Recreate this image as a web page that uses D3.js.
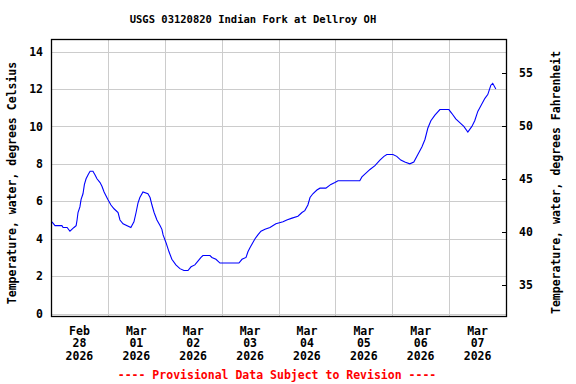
<!DOCTYPE html>
<html>
<head>
<meta charset="utf-8">
<script src="https://cdn.jsdelivr.net/npm/d3@7"></script>
<style>
  body { margin: 0; background: #fff; }
  svg text { font-family: "DejaVu Sans Mono", monospace; font-weight: bold; fill: #000; }
</style>
</head>
<body>
<div id="chart"></div>
<script>
// chart text
const chartTitle = "USGS 03120820 Indian Fork at Dellroy OH";
const leftTitle = "Temperature, water, degrees Celsius";
const rightTitle = "Temperature, water, degrees Fahrenheit";
const footNote = "---- Provisional Data Subject to Revision ----";

// observations: hours after 2026-02-28 00:00 and water temperature (deg C)
const obsHours = [0.4, 1.7, 4.6, 5.1, 6.8, 8.0, 9.7, 10.6, 11.0, 11.4, 12.2, 12.7, 13.5, 14.1, 14.8, 15.6, 16.0, 16.5, 17.7,
  18.6, 19.4, 20.7, 21.5, 22.4, 23.2, 24.0, 25.3, 26.6, 28.3, 29.1, 30.4, 33.7, 35.0, 35.9, 36.7, 37.5, 38.8,
  40.9, 41.8, 42.6, 43.5, 44.7, 46.0, 46.8, 47.3, 48.5, 49.8, 51.0, 52.7, 54.4, 56.1, 57.8, 59.1, 60.7, 62.0,
  63.3, 64.1, 67.1, 67.9, 69.6, 71.3, 79.3, 80.6, 82.3, 83.1, 83.9, 85.2, 86.1, 87.3, 88.6, 90.3, 92.4, 94.9,
  97.9, 99.5, 101.7, 104.2, 105.9, 107.1, 108.4, 109.3, 110.5, 112.2, 113.5, 116.0, 118.1, 119.8, 121.1,
  130.3, 131.2, 132.9, 134.6, 136.7, 138.8, 140.5, 141.7, 144.3, 145.9, 147.6, 149.3, 151.4, 153.1, 154.8,
  156.5, 157.8, 159.0, 160.3, 162.0, 164.1, 167.9, 169.1, 170.8, 172.5, 174.2, 175.9, 177.6, 178.8, 180.1,
  181.4, 183.1, 184.3, 185.6, 186.4, 187.7];
const tempC = [4.9, 4.7, 4.7, 4.6, 4.6, 4.4, 4.6, 4.7, 5.0, 5.4, 5.7, 6.1, 6.4, 6.9, 7.2, 7.4, 7.5, 7.6, 7.6,
  7.4, 7.2, 7.0, 6.8, 6.5, 6.3, 6.1, 5.8, 5.6, 5.4, 5.0, 4.8, 4.6, 4.9, 5.4, 5.9, 6.2, 6.5,
  6.4, 6.2, 5.8, 5.4, 5.0, 4.7, 4.5, 4.2, 3.8, 3.3, 2.9, 2.6, 2.4, 2.3, 2.3, 2.5, 2.6, 2.8,
  3.0, 3.1, 3.1, 3.0, 2.9, 2.7, 2.7, 2.9, 3.0, 3.3, 3.5, 3.8, 4.0, 4.2, 4.4, 4.5, 4.6, 4.8,
  4.9, 5.0, 5.1, 5.2, 5.4, 5.5, 5.8, 6.2, 6.4, 6.6, 6.7, 6.7, 6.9, 7.0, 7.1,
  7.1, 7.3, 7.5, 7.7, 7.9, 8.2, 8.4, 8.5, 8.5, 8.4, 8.2, 8.1, 8.0, 8.1, 8.5,
  8.9, 9.3, 9.9, 10.3, 10.6, 10.9, 10.9, 10.7, 10.4, 10.2, 10.0, 9.7, 10.0, 10.3, 10.8,
  11.1, 11.5, 11.7, 12.2, 12.3, 12.0];

// axes
const startDay = "2026-02-28";
const endDay = "2026-03-08";
const dayLabels = ["2026-02-28", "2026-03-01", "2026-03-02", "2026-03-03", "2026-03-04", "2026-03-05", "2026-03-06", "2026-03-07"];
const celsiusTicks = [0, 2, 4, 6, 8, 10, 12, 14];
const celsiusRange = [-0.13, 14.67];
const fahrenheitTicks = [35, 40, 45, 50, 55];
const fahrenheitRange = [32.1, 58.2];

const width = 576, height = 384;
const margin = {top: 39, right: 70, bottom: 68, left: 51};
const w = width - margin.left - margin.right,
      h = height - margin.top - margin.bottom;

const parseDay = d3.timeParse("%Y-%m-%d");
const t0 = parseDay(startDay);

const svg = d3.select("#chart")
  .append("svg")
    .attr("width", width)
    .attr("height", height);

const g = svg.append("g")
    .attr("transform", `translate(${margin.left},${margin.top})`);

const x = d3.scaleTime()
  .domain([t0, parseDay(endDay)])
  .range([0, w]);

const y = d3.scaleLinear()
  .domain(celsiusRange)
  .range([h, 0]);

const yF = d3.scaleLinear()
  .domain(fahrenheitRange)
  .range([h, 0]);

// grid - horizontal at celsius ticks
g.append("g")
  .attr("class", "ygrid")
  .call(d3.axisLeft(y).tickValues(celsiusTicks).tickSize(-w).tickPadding(8).tickFormat(d3.format("d")))
  .call(a => a.select(".domain").remove())
  .call(a => a.selectAll("line").attr("stroke", "#cccccc").attr("shape-rendering", "crispEdges"))
  .call(a => a.selectAll("text").style("font-size", "11.5px"));

// grid - vertical at midnights
g.append("g")
  .attr("transform", `translate(0,${h})`)
  .call(d3.axisBottom(x).tickValues(dayLabels.map(parseDay)).tickSize(-h).tickFormat(""))
  .call(a => a.select(".domain").remove())
  .call(a => a.selectAll("line").attr("stroke", "#cccccc").attr("shape-rendering", "crispEdges"));

// day labels at noon
const labelDays = dayLabels.map(d => d3.timeHour.offset(parseDay(d), 12));
const fmts = [d3.timeFormat("%b"), d3.timeFormat("%d"), d3.timeFormat("%Y")];
const lbl = g.append("g").selectAll("text")
  .data(labelDays)
  .join("text")
    .attr("x", d => x(d))
    .attr("text-anchor", "middle")
    .style("font-size", "11.5px");
fmts.forEach((f, i) => {
  lbl.append("tspan")
    .attr("x", d => x(d))
    .attr("y", h + 18.5 + i * 12.7)
    .text(d => f(d));
});

// the series
const line = d3.line()
  .x((d, i) => x(d3.timeMinute.offset(t0, Math.round(obsHours[i] * 60))))
  .y(d => y(d));

g.append("path")
  .datum(tempC)
  .attr("fill", "none")
  .attr("stroke", "#0000ff")
  .attr("stroke-width", 1.1)
  .attr("d", line);

// frame
g.append("rect")
  .attr("x", 0.5).attr("y", 0.5)
  .attr("width", w).attr("height", h)
  .attr("fill", "none")
  .attr("stroke", "#000")
  .attr("stroke-width", 1.3);

// right fahrenheit axis, ticks pointing in
g.append("g")
  .attr("transform", `translate(${w},0)`)
  .call(d3.axisRight(yF).tickValues(fahrenheitTicks).tickSize(-4).tickPadding(13))
  .call(a => a.select(".domain").remove())
  .call(a => a.selectAll("line").attr("stroke", "#000").attr("shape-rendering", "crispEdges"))
  .call(a => a.selectAll("text").style("font-size", "11.5px"));

// titles
svg.append("text")
  .attr("x", 253).attr("y", 23)
  .attr("text-anchor", "middle")
  .style("font-size", "10.5px")
  .text(chartTitle);

svg.append("text")
  .attr("transform", "translate(15.5,183) rotate(-90)")
  .attr("text-anchor", "middle")
  .style("font-size", "11.5px")
  .text(leftTitle);

svg.append("text")
  .attr("transform", "translate(560,182.5) rotate(-90)")
  .attr("text-anchor", "middle")
  .style("font-size", "11.5px")
  .text(rightTitle);

svg.append("text")
  .attr("x", 277).attr("y", 379)
  .attr("text-anchor", "middle")
  .style("font-size", "11.5px")
  .style("fill", "#ff0000")
  .text(footNote);
</script>
</body>
</html>
